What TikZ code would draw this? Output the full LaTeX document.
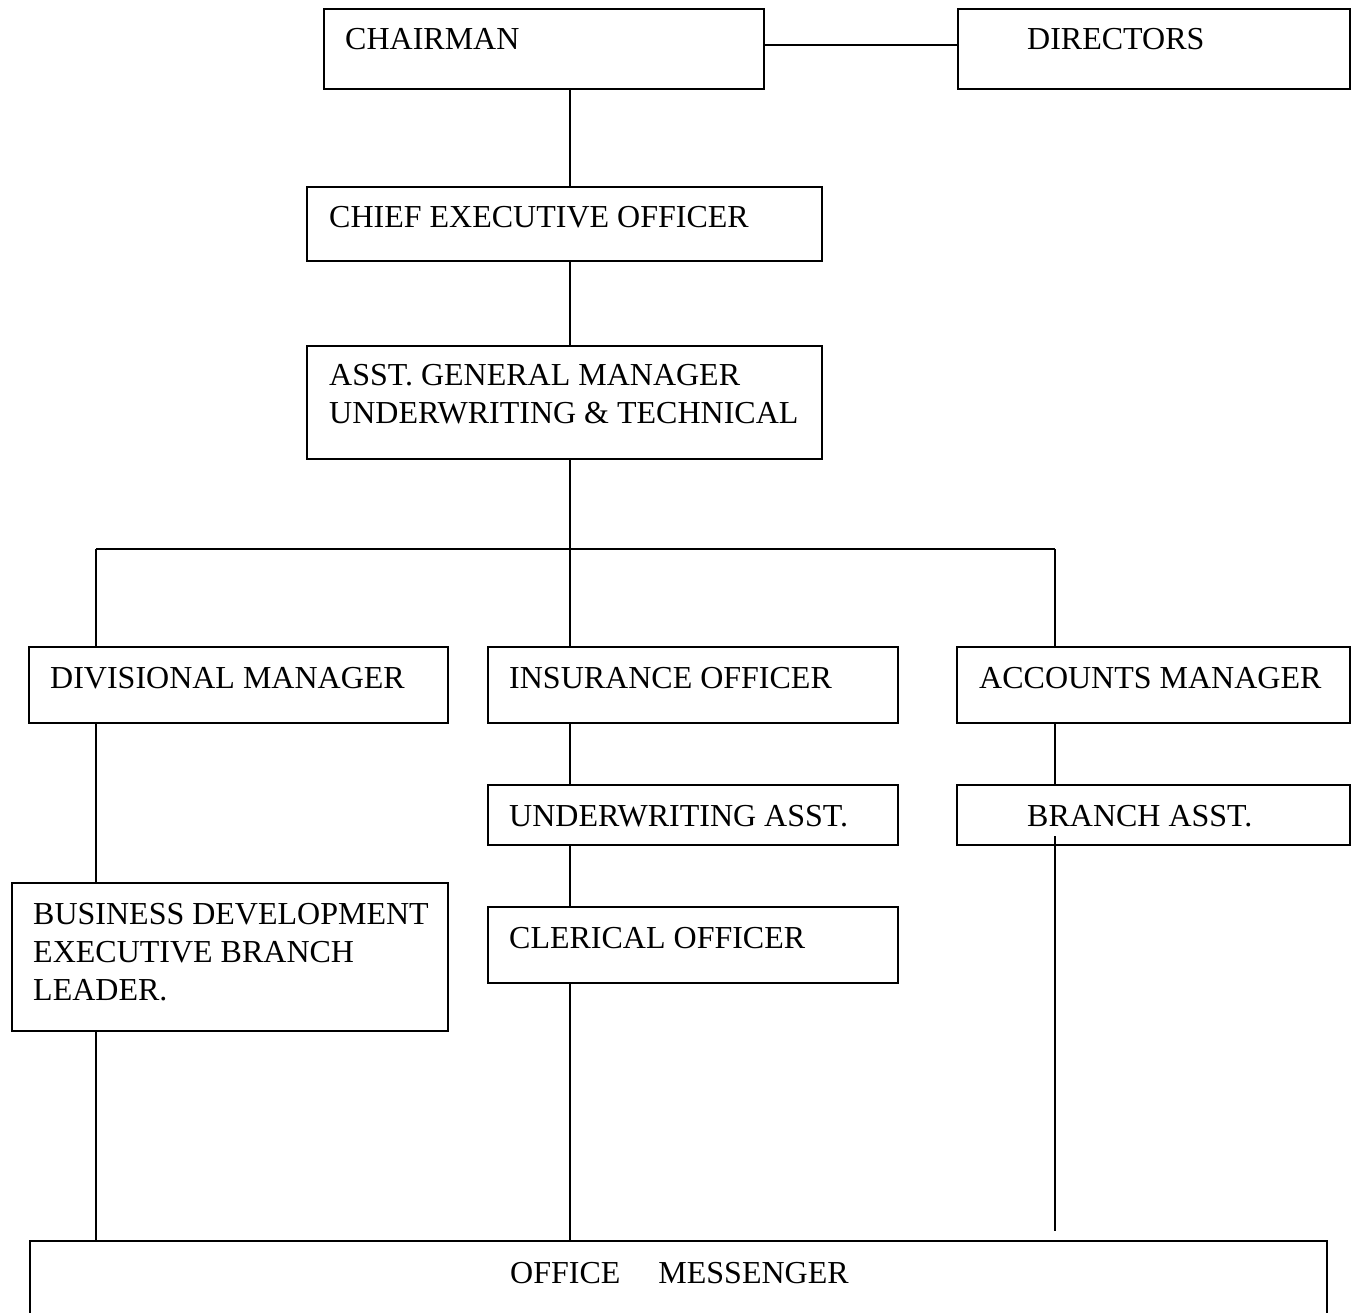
\documentclass[tikz,border=0pt]{standalone}
\usepackage{fontspec}
\setmainfont{Liberation Serif}
\newcommand\mylines[1]{\begin{tabular}[t]{@{}l@{}}#1\end{tabular}}
\begin{document}
\begin{tikzpicture}[x=1pt,y=-1pt,
  box/.style={draw, line width=1.8pt, inner sep=0pt, outer sep=0pt, anchor=north west},
  txt/.style={inner sep=0pt, anchor=base west, font=\fontsize{32}{38}\selectfont},
  link/.style={line width=1.5pt}]
\clip (0,0) rectangle (1360,1313);
\fill[white] (0,0) rectangle (1360,1313);

% boxes
\node[box, minimum width=440pt, minimum height=80pt]  (chair) at (324,9) {};
\node[box, minimum width=392pt, minimum height=80pt]  (dir)   at (958,9) {};
\node[box, minimum width=515pt, minimum height=74pt]  (ceo)   at (307,187) {};
\node[box, minimum width=515pt, minimum height=113pt] (agm)   at (307,346) {};
\node[box, minimum width=419pt, minimum height=76pt]  (dm)    at (29,647) {};
\node[box, minimum width=410pt, minimum height=76pt]  (io)    at (488,647) {};
\node[box, minimum width=393pt, minimum height=76pt]  (am)    at (957,647) {};
\node[box, minimum width=410pt, minimum height=60pt]  (ua)    at (488,785) {};
\node[box, minimum width=393pt, minimum height=60pt]  (ba)    at (957,785) {};
\node[box, minimum width=436pt, minimum height=148pt] (bd)    at (12,883) {};
\node[box, minimum width=410pt, minimum height=76pt]  (co)    at (488,907) {};
\node[box, minimum width=1297pt, minimum height=110pt] (om)   at (30,1241) {};

% texts
\node[txt] (chairT) at ([shift={(21pt,-41pt)}]chair.north west) {CHAIRMAN};
\node[txt] (dirT)   at ([shift={(69pt,-41pt)}]dir.north west) {DIRECTORS};
\node[txt] (ceoT)   at ([shift={(22pt,-41pt)}]ceo.north west) {CHIEF EXECUTIVE OFFICER};
\node[txt] (agmT)   at ([shift={(22pt,-39pt)}]agm.north west) {\mylines{ASST. GENERAL MANAGER\\UNDERWRITING \& TECHNICAL}};
\node[txt] (dmT)    at ([shift={(21pt,-41pt)}]dm.north west) {DIVISIONAL MANAGER};
\node[txt] (ioT)    at ([shift={(21pt,-41pt)}]io.north west) {INSURANCE OFFICER};
\node[txt] (amT)    at ([shift={(22pt,-41pt)}]am.north west) {ACCOUNTS MANAGER};
\node[txt] (uaT)    at ([shift={(21pt,-41pt)}]ua.north west) {UNDERWRITING ASST.};
\node[txt] (baT)    at ([shift={(70pt,-41pt)}]ba.north west) {BRANCH ASST.};
\node[txt] (bdT)    at ([shift={(21pt,-41pt)}]bd.north west) {\mylines{BUSINESS DEVELOPMENT\\EXECUTIVE BRANCH\\LEADER.}};
\node[txt] (coT)    at ([shift={(21pt,-41pt)}]co.north west) {CLERICAL OFFICER};
\node[txt] (omT)    at ([shift={(480pt,-42pt)}]om.north west) {OFFICE\hspace{30pt} MESSENGER};

% helper coordinates
\coordinate (spine) at (570,0);
\coordinate (barL) at (96,549);
\coordinate (barM) at (570,549);
\coordinate (barR) at (1055,549);
\coordinate (baTail) at ([yshift=9pt]ba.south);
\coordinate (omStop) at ([yshift=10pt]om.north);

% connectors
\draw[link] ([yshift=4pt]chair.east) -- ([yshift=4pt]dir.west);
\draw[link] (chair.south -| spine) -- (ceo.north -| spine);
\draw[link] (ceo.south -| spine) -- (agm.north -| spine);
\draw[link] (agm.south -| spine) -- (barM);
\draw[link] (barL) -- (barR);
\draw[link] (barL) -- (dm.north -| barL);
\draw[link] (barM) -- (io.north -| barM);
\draw[link] (barR) -- (am.north -| barR);
\draw[link] (dm.south -| barL) -- (bd.north -| barL);
\draw[link] (bd.south -| barL) -- (om.north -| barL);
\draw[link] (io.south -| spine) -- (ua.north -| spine);
\draw[link] (ua.south -| spine) -- (co.north -| spine);
\draw[link] (co.south -| spine) -- (om.north -| spine);
\draw[link] (am.south -| barR) -- (ba.north -| barR);
\draw[link] (baTail -| barR) -- (omStop -| barR);
\end{tikzpicture}
\end{document}
